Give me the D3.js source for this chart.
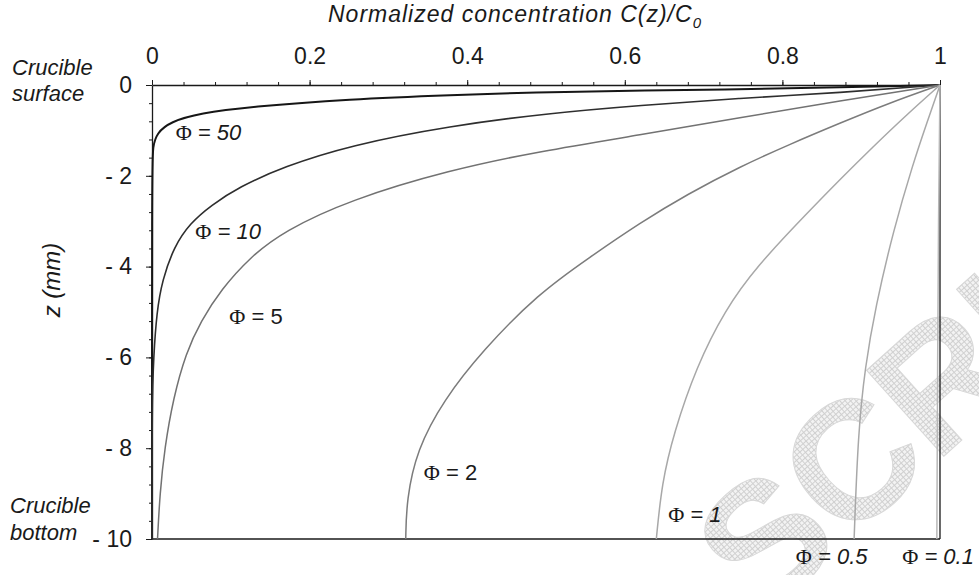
<!DOCTYPE html>
<html>
<head>
<meta charset="utf-8">
<script src="https://cdn.jsdelivr.net/npm/d3@7"></script>
<style>
  body { margin: 0; background: #fff; }
  svg { display: block; }
  text { font-family: "Liberation Sans", Arial, sans-serif; fill: #1a1a1a; }
</style>
</head>
<body>
<div id="canvas"></div>
<script>
"use strict"

/* curve data: [C/C0, z (mm)] */
let phiValues = ["50", "10", "5", "2", "1", "0.5", "0.1"]
let profile50 = [[1, 0], [0.873, -0.05], [0.746, -0.095], [0.505, -0.15], [0.378, -0.22], [0.251, -0.31],
    [0.124, -0.48], [0.061, -0.62], [0.023, -0.81], [0.006, -1.06], [0.001, -1.36], [0, -1.8], [0, -10]]
let profile10 = [[1, 0], [0.873, -0.17], [0.746, -0.29], [0.619, -0.45], [0.505, -0.62], [0.378, -0.90],
    [0.251, -1.33], [0.167, -1.80], [0.110, -2.25], [0.075, -2.65], [0.048, -3.05], [0.028, -3.56],
    [0.013, -4.3], [0.006, -5.0], [0.002, -6.0], [0, -7.0], [0, -10]]
let profile5 = [[1, 0], [0.873, -0.35], [0.746, -0.72], [0.619, -1.10], [0.492, -1.46], [0.378, -1.87],
    [0.251, -2.53], [0.167, -3.22], [0.124, -3.80], [0.088, -4.5], [0.062, -5.2], [0.043, -5.9],
    [0.027, -6.9], [0.016, -8.0], [0.010, -9.0], [0.007, -10]]
let profile2 = [[1, 0], [0.935, -0.4], [0.873, -0.84], [0.810, -1.3], [0.746, -1.80], [0.680, -2.4],
    [0.619, -3.04], [0.555, -3.8], [0.490, -4.6], [0.420, -5.84], [0.370, -6.94], [0.336, -8.04],
    [0.323, -9.14], [0.322, -10]]
let profile1 = [[1, 0], [0.958, -0.65], [0.915, -1.36], [0.872, -2.1], [0.831, -2.83], [0.767, -4.00],
    [0.727, -4.96], [0.691, -6.20], [0.662, -7.67], [0.647, -8.77], [0.640, -10]]
let profile05 = [[1, 0], [0.983, -0.85], [0.966, -1.72], [0.941, -3.19], [0.918, -4.9], [0.905, -6.20],
    [0.896, -7.67], [0.891, -10]]
let profile01 = [[1, 0], [0.998, -3], [0.997, -6], [0.996, -10]]
let profiles = [profile50, profile10, profile5, profile2, profile1, profile05, profile01]

/* where each Φ label sits, in data units */
let labelC = [0.030, 0.055, 0.098, 0.345, 0.655, 0.817, 0.952]
let labelZ = [-1.21, -3.39, -5.26, -8.70, -9.63, -10.55, -10.55]
let labelItalic = [true, true, false, false, true, true, true]

/* ticks */
let xMajorTicks = [0, 0.2, 0.4, 0.6, 0.8, 1]
let xMinorTicks = d3.range(0, 1.001, 0.04)
let yMajorTicks = [0, -2, -4, -6, -8, -10]
let yMinorTicks = d3.range(0, -10.001, -0.4)

/* styles */
let lineColors = ["#161616", "#2e2e2e", "#727272", "#7c7c7c", "#a8a8a8", "#a8a8a8", "#b8b8b8"]
let lineWidths = [2, 1.6, 1.5, 1.5, 1.5, 1.5, 1.5]

let svgWidth = 979
let svgHeight = 575

let svg = d3.select("#canvas")
    .append("svg")
    .attr("width", svgWidth)
    .attr("height", svgHeight)

/* watermark pattern */
let defs = svg.append("defs")
let pat = defs.append("pattern")
    .attr("id", "grid")
    .attr("width", 4)
    .attr("height", 4)
    .attr("patternUnits", "userSpaceOnUse")
pat.append("rect").attr("width", 4).attr("height", 4).attr("fill", "#f3f3f3")
pat.append("path").attr("d", "M0,0.5H4M0.5,0V4").attr("stroke", "#d0d0d0").attr("stroke-width", 1)

svg.append("text")
    .attr("transform", "translate(762,620) rotate(-42)")
    .style("font-size", "168px")
    .style("font-weight", "bold")
    .style("fill", "url(#grid)")
    .style("stroke", "#d8d8d8")
    .style("stroke-width", 1)
    .text("SCRIPT")

/* scales */
let xScale = d3.scaleLinear().domain([0, 1]).range([152, 940])
let yScale = d3.scaleLinear().domain([0, -10]).range([85, 539])

/* frame: right and bottom */
svg.append("line")
    .attr("x1", xScale(1)).attr("x2", xScale(1))
    .attr("y1", yScale(0)).attr("y2", yScale(-10))
    .attr("stroke", "#1a1a1a").attr("stroke-width", 1.3)
svg.append("line")
    .attr("x1", xScale(0)).attr("x2", xScale(1))
    .attr("y1", yScale(-10)).attr("y2", yScale(-10))
    .attr("stroke", "#1a1a1a").attr("stroke-width", 1.3)

/* x axis on top */
let xMinor = svg.append("g")
    .attr("transform", `translate(0,${yScale(0)})`)
    .call(d3.axisTop(xScale).tickValues(xMinorTicks).tickSize(3).tickSizeOuter(0).tickFormat(""))
xMinor.select(".domain").remove()

let xAxis = svg.append("g")
    .attr("transform", `translate(0,${yScale(0)})`)
    .call(d3.axisTop(xScale).tickValues(xMajorTicks).tickSize(5).tickSizeOuter(0).tickPadding(16)
        .tickFormat(function (d) { return d3.format("~g")(d) }))

/* y axis on left */
let yMinor = svg.append("g")
    .attr("transform", `translate(${xScale(0)},0)`)
    .call(d3.axisLeft(yScale).tickValues(yMinorTicks).tickSize(3).tickSizeOuter(0).tickFormat(""))
yMinor.select(".domain").remove()

let yAxis = svg.append("g")
    .attr("transform", `translate(${xScale(0)},0)`)
    .call(d3.axisLeft(yScale).tickValues(yMajorTicks).tickSize(6).tickSizeOuter(0).tickPadding(14)
        .tickFormat(function (d) { return d === 0 ? "0" : "- " + Math.abs(d) }))

svg.selectAll(".tick line").attr("stroke", "#1a1a1a")
svg.selectAll(".domain").attr("stroke", "#1a1a1a").attr("stroke-width", 1.3)
svg.selectAll(".tick text")
    .style("font-size", "23px")
    .style("font-family", "\"Liberation Sans\", Arial, sans-serif")
    .attr("fill", "#1a1a1a")

/* concentration profiles */
let line = d3.line()
    .x(function (d) { return xScale(d[0]) })
    .y(function (d) { return yScale(d[1]) })
    .curve(d3.curveBasis)

svg.selectAll("path.profile")
    .data(profiles)
    .join("path")
    .classed("profile", true)
    .attr("d", line)
    .attr("fill", "none")
    .attr("stroke", function (d, i) { return lineColors[i] })
    .attr("stroke-width", function (d, i) { return lineWidths[i] })

/* Φ labels */
for (let i = 0; i < phiValues.length; i++) {
    let t = svg.append("text")
        .attr("x", xScale(labelC[i]))
        .attr("y", yScale(labelZ[i]))
        .style("font-size", "22px")
    t.append("tspan")
        .style("font-family", "\"Liberation Serif\", \"Times New Roman\", serif")
        .text("\u03A6")
    t.append("tspan")
        .style("font-style", labelItalic[i] ? "italic" : "normal")
        .text(" = " + phiValues[i])
}

/* titles */
let title = svg.append("text")
    .attr("x", 328)
    .attr("y", 22)
    .style("font-size", "23px")
    .style("font-style", "italic")
    .style("letter-spacing", "1px")
title.append("tspan").text("Normalized concentration  C(z)/C")
title.append("tspan").attr("dy", 6).style("font-size", "15px").text("0")

svg.append("text")
    .attr("transform", "translate(60,280) rotate(-90)")
    .attr("text-anchor", "middle")
    .style("font-size", "24px")
    .style("font-style", "italic")
    .text("z (mm)")

/* crucible notes */
let notes = [["Crucible", 12, 75], ["surface", 12, 101], ["Crucible", 10, 513], ["bottom", 10, 540]]
notes.forEach(function (n) {
    svg.append("text")
        .attr("x", n[1])
        .attr("y", n[2])
        .style("font-size", "22px")
        .style("font-style", "italic")
        .text(n[0])
})
</script>
</body>
</html>
